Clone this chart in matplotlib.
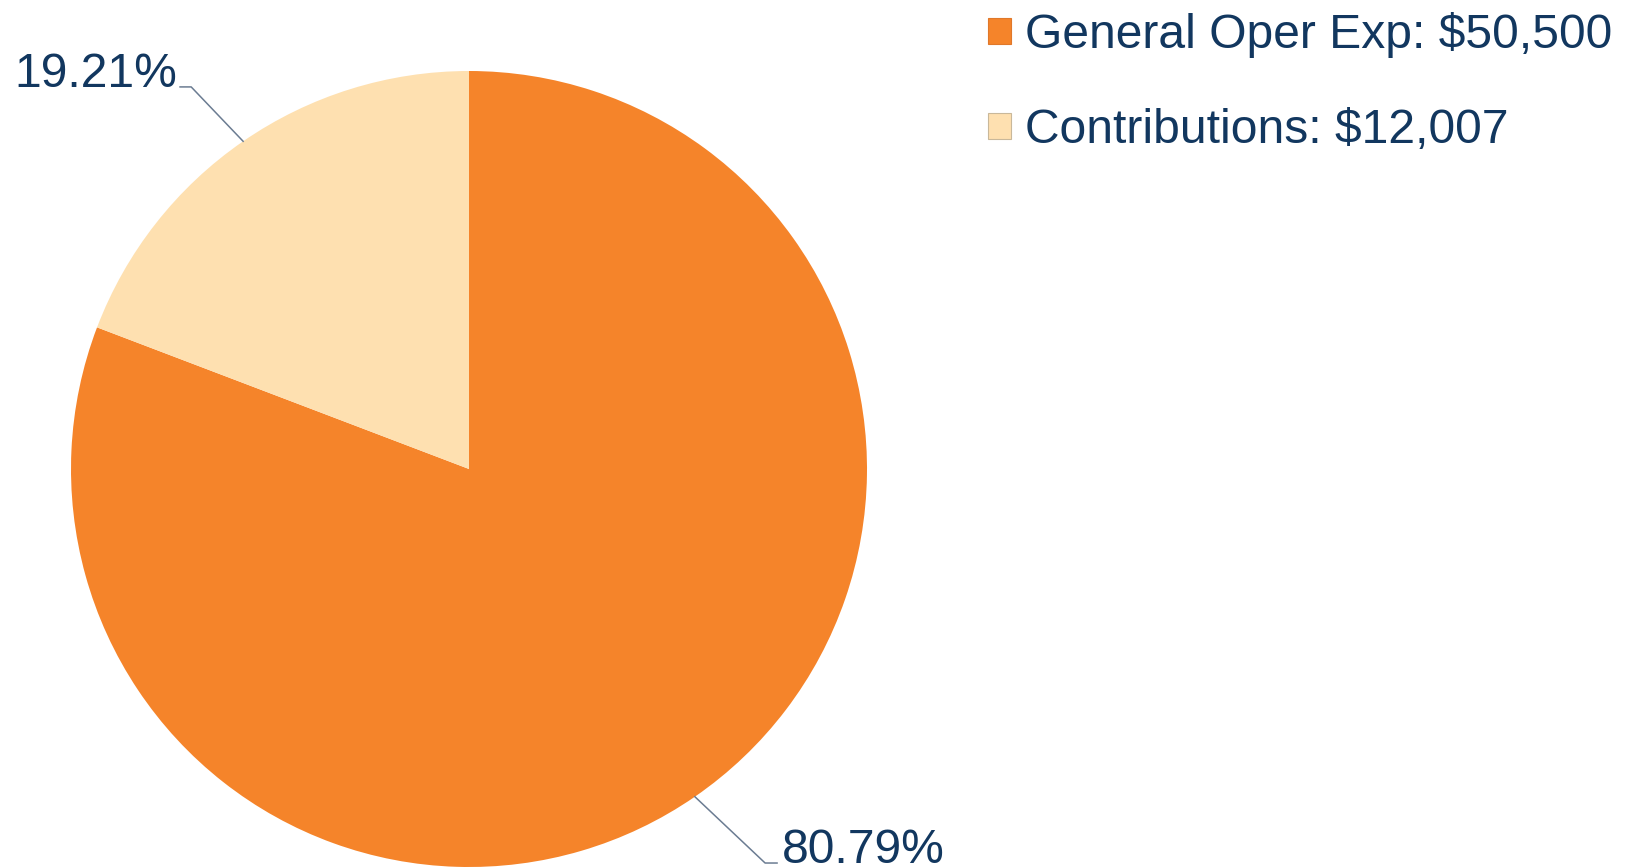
import matplotlib
matplotlib.use("Agg")
import matplotlib.pyplot as plt
from matplotlib.patches import Patch
import numpy as np

plt.rcParams['font.family'] = ['Liberation Sans', 'DejaVu Sans']

categories = ["General Oper Exp", "Contributions"]
values = [50500, 12007]
colors = ["#F5842A", "#FEE0B0"]
text_color = "#12375F"
line_color = "#6B7C92"

W, H = 1631, 868
fig = plt.figure(figsize=(W / 100, H / 100), dpi=100)
cx, cy, r = 469, 469, 398
ax = fig.add_axes([(cx - r) / W, (H - cy - r) / H, 2 * r / W, 2 * r / H])
wedges, _ = ax.pie(values, colors=colors, startangle=90, counterclock=False,
                   radius=1, wedgeprops=dict(linewidth=0))
ax.set_xlim(-1, 1)
ax.set_ylim(-1, 1)
ax.set_aspect('equal')
ax.axis('off')

total = sum(values)
pcts = [v / total * 100 for v in values]

# label layouts (elbow, line end, text x, ha) in data units
layouts = [
    dict(elbow=(0.744, -0.990), end=(0.774, -0.990), tx=0.786, ha='left'),
    dict(elbow=(-0.698, 0.960), end=(-0.726, 0.960), tx=-0.734, ha='right'),
]
for w, p, lay in zip(wedges, pcts, layouts):
    ang = np.deg2rad((w.theta1 + w.theta2) / 2)
    ex, ey = np.cos(ang), np.sin(ang)
    xs = [ex, lay['elbow'][0], lay['end'][0]]
    ys = [ey, lay['elbow'][1], lay['end'][1]]
    ax.plot(xs, ys, color=line_color, lw=1.1, clip_on=False)
    ax.text(lay['tx'], lay['end'][1], f"{p:.2f}%", ha=lay['ha'], va='baseline',
            fontsize=34.6, color=text_color, clip_on=False)

handles = [Patch(facecolor=c, edgecolor=e, linewidth=0.8)
           for c, e in zip(colors, ["#E0782A", "#C9B89A"])]
labels = [f"{c}: ${v:,}" for c, v in zip(categories, values)]
leg = fig.legend(handles, labels, loc='upper left',
                 bbox_to_anchor=(988 / W, 1 - 12 / H), frameon=False,
                 fontsize=34.6, handlelength=0.48, handleheight=0.48,
                 handletextpad=0.3, labelspacing=1.04, borderpad=0,
                 borderaxespad=0)
for t in leg.get_texts():
    t.set_color(text_color)

fig.savefig("out.png", dpi=100)
